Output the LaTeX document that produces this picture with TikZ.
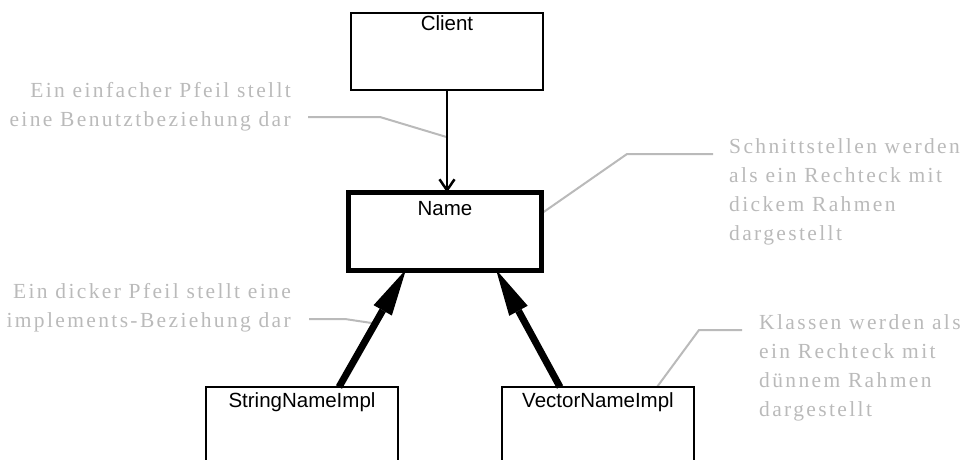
\documentclass[tikz,border=0pt]{standalone}
\usepackage{fontspec}
\setmainfont{Liberation Serif}
\newfontfamily\boxFont{Liberation Sans}
\newfontfamily\noteFont[LetterSpace=11]{Liberation Serif}
\usetikzlibrary{arrows.meta,backgrounds}
\definecolor{noteGray}{RGB}{186,186,186}
\def\boxWidth{192}
\def\boxHeight{77}

\begin{document}
\begin{tikzpicture}[x=1pt,y=-1pt,
	classbox/.style={draw, line width=1.6pt, outer sep=0pt, inner sep=0pt, anchor=north west, minimum width=\boxWidth pt, minimum height=\boxHeight pt},
	interfacebox/.style={classbox, line width=4.5pt, minimum width=193pt, minimum height=78pt},
	boxlabel/.style={font=\boxFont\fontsize{20.5}{24}\selectfont, inner sep=0pt, anchor=north},
	uses/.style={line width=2.5pt, -{Straight Barb[length=11pt,width=15pt]}},
	implements/.style={line width=7pt, -{Triangle[length=47pt,width=21pt,line width=0pt]}},
	callout/.style={noteGray, line width=2pt},
	note/.style={noteGray, inner sep=0pt, font=\noteFont\fontsize{21.5}{29}\selectfont}
]
	\useasboundingbox (0,0) rectangle (961,459);
	\clip (0,0) rectangle (961,459);

	%classes and the interface
	\node[classbox] (client) at (351,13) {};
	\node[interfacebox] (name) at (348.5,192.5) {};
	\node[classbox, minimum height=100pt] (sni) at (206,387) {};
	\node[classbox, minimum height=100pt] (vni) at (502,387) {};

	\node[boxlabel] (clientText) at ([yshift=-2pt]client.north) {Client};
	\node[boxlabel] (nameText) at ([yshift=-9pt]name.north) {Name};
	\node[boxlabel] (sniText) at ([yshift=-5pt]sni.north) {StringNameImpl};
	\node[boxlabel] (vniText) at ([yshift=-5pt]vni.north) {VectorNameImpl};

	%arrows
	\draw[uses] (client.south) -- coordinate[pos=0.46] (usesPoint) (client.south |- name.north);
	\draw[implements] ([xshift=37pt]sni.north) -- coordinate[pos=0.54] (implPoint) ([xshift=-39pt,yshift=1pt]name.south);
	\draw[implements] ([xshift=-38pt]vni.north) -- ([xshift=51pt,yshift=1pt]name.south);

	%notes
	\node[note, anchor=north east, align=right] (benutzt) at (291,82) {Ein einfacher Pfeil stellt\\eine Benutztbeziehung dar};
	\node[note, anchor=north east, align=right] (dicker) at (291,283) {Ein dicker Pfeil stellt eine\\implements-Beziehung dar};
	\node[note, anchor=north west, align=left] (schnitt) at (729,138) {Schnittstellen werden\\als ein Rechteck mit\\dickem Rahmen\\dargestellt};
	\node[note, anchor=north west, align=left] (klassen) at (759,314) {Klassen werden als\\ein Rechteck mit\\dünnem Rahmen\\dargestellt};

	%grey lines from the notes
	\coordinate (benutztEnd) at (308,117);
	\coordinate (dickerEnd) at (309,319);
	\coordinate (schnittEnd) at (713,154);
	\coordinate (klassenEnd) at (742,330);
	\begin{scope}[on background layer]
		\draw[callout] (benutztEnd) -- ++(72,0) -- (usesPoint);
		\draw[callout] (dickerEnd) -- ++(36,0) -- (implPoint);
		\draw[callout] ([yshift=18pt]name.east) -- (627,154) -- (schnittEnd);
		\draw[callout] ([xshift=59pt]vni.north) -- (699,330) -- (klassenEnd);
	\end{scope}

\end{tikzpicture}
\end{document}
